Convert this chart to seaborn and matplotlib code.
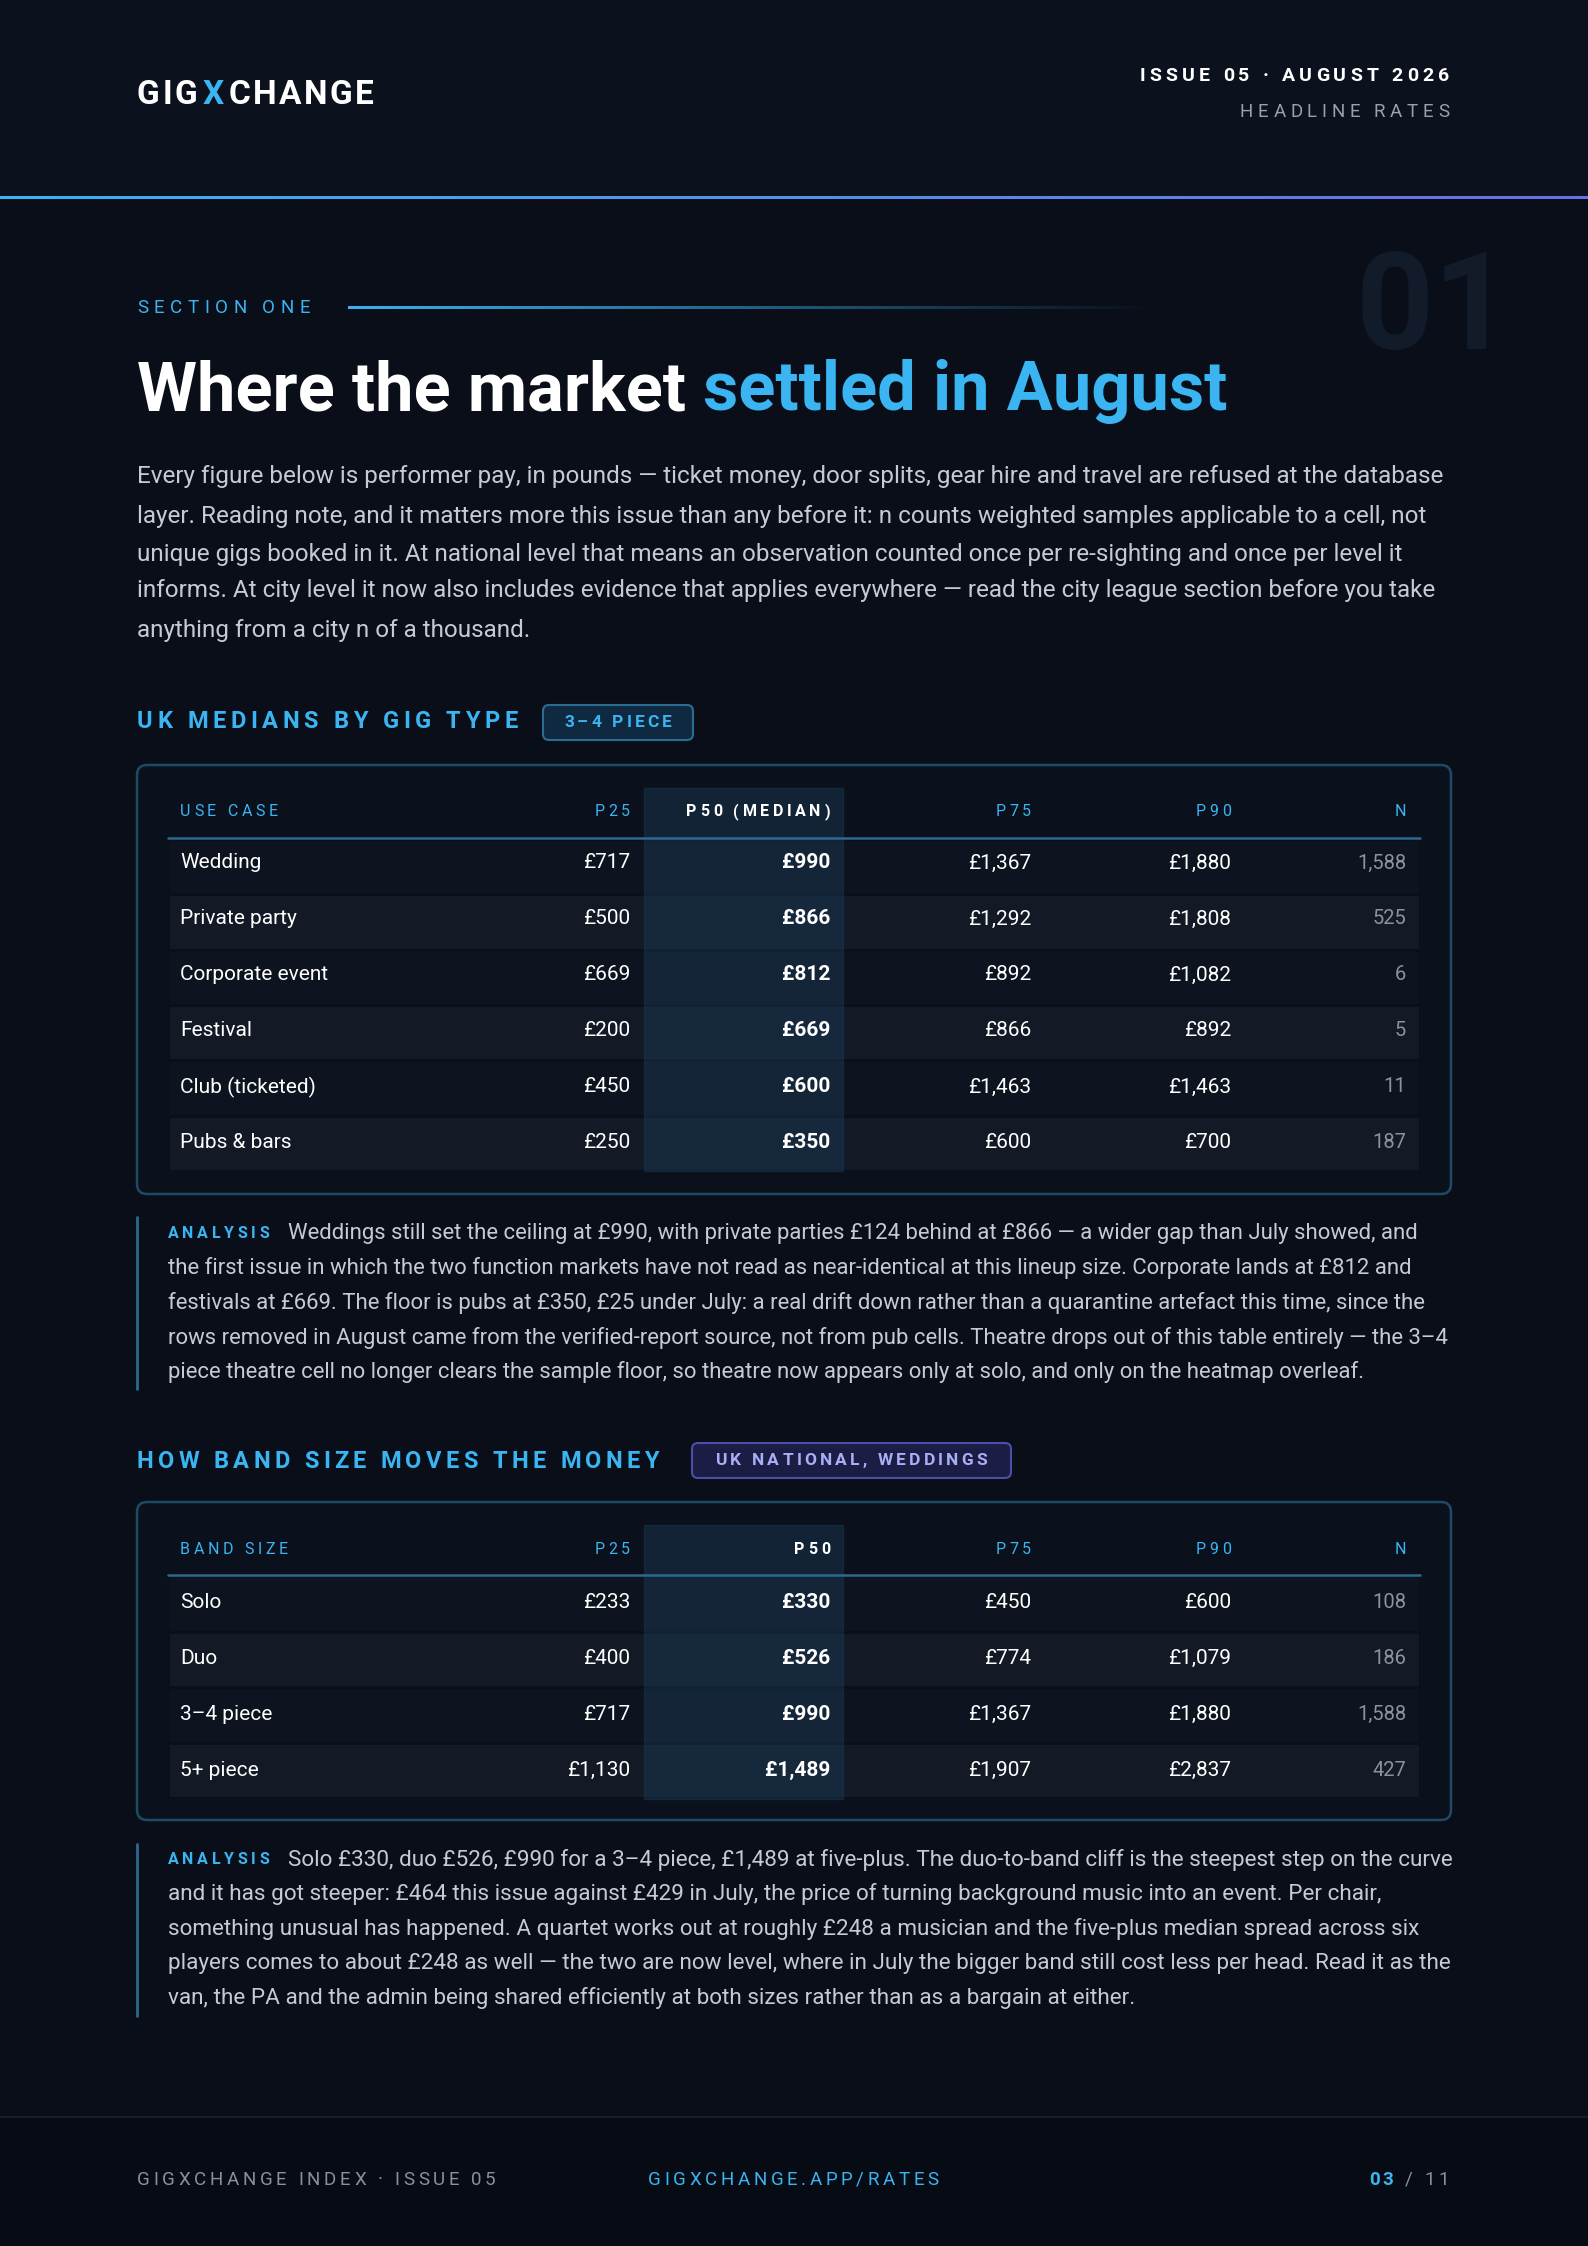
import matplotlib
matplotlib.use("Agg")
import matplotlib.pyplot as plt
import seaborn as sns
import numpy as np
from matplotlib.colors import ListedColormap, LinearSegmentedColormap
from matplotlib.font_manager import FontProperties
from matplotlib.textpath import text_to_path
from matplotlib.patches import FancyBboxPatch, Rectangle

# ---------------- data ----------------
gig_types = ["Wedding", "Private party", "Corporate event", "Festival", "Club (ticketed)", "Pubs & bars"]
gig_p25 = [717, 500, 669, 200, 450, 250]
gig_p50 = [990, 866, 812, 669, 600, 350]
gig_p75 = [1367, 1292, 892, 866, 1463, 600]
gig_p90 = [1880, 1808, 1082, 892, 1463, 700]
gig_n = [1588, 525, 6, 5, 11, 187]

band_sizes = ["Solo", "Duo", "3–4 piece", "5+ piece"]
band_p25 = [233, 400, 717, 1130]
band_p50 = [330, 526, 990, 1489]
band_p75 = [450, 774, 1367, 1907]
band_p90 = [600, 1079, 1880, 2837]
band_n = [108, 186, 1588, 427]

intro_lines = [
    "Every figure below is performer pay, in pounds — ticket money, door splits, gear hire and travel are refused at the database",
    "layer. Reading note, and it matters more this issue than any before it: n counts weighted samples applicable to a cell, not",
    "unique gigs booked in it. At national level that means an observation counted once per re-sighting and once per level it",
    "informs. At city level it now also includes evidence that applies everywhere — read the city league section before you take",
    "anything from a city n of a thousand.",
]
analysis1 = [
    "Weddings still set the ceiling at £990, with private parties £124 behind at £866 — a wider gap than July showed, and",
    "the first issue in which the two function markets have not read as near-identical at this lineup size. Corporate lands at £812 and",
    "festivals at £669. The floor is pubs at £350, £25 under July: a real drift down rather than a quarantine artefact this time, since the",
    "rows removed in August came from the verified-report source, not from pub cells. Theatre drops out of this table entirely — the 3–4",
    "piece theatre cell no longer clears the sample floor, so theatre now appears only at solo, and only on the heatmap overleaf.",
]
analysis2 = [
    "Solo £330, duo £526, £990 for a 3–4 piece, £1,489 at five-plus. The duo-to-band cliff is the steepest step on the curve",
    "and it has got steeper: £464 this issue against £429 in July, the price of turning background music into an event. Per chair,",
    "something unusual has happened. A quartet works out at roughly £248 a musician and the five-plus median spread across six",
    "players comes to about £248 as well — the two are now level, where in July the bigger band still cost less per head. Read it as the",
    "van, the PA and the admin being shared efficiently at both sizes rather than as a bargain at either.",
]

# ---------------- style ----------------
sns.set_theme(style="dark")
FAM = ["Roboto", "DejaVu Sans"]
plt.rcParams["font.family"] = FAM
BG = "#090e18"
BLUE = "#3bb4f2"
WHITE = "#ffffff"
GREY = "#c5cad3"
DIM = "#8c939e"

W, H = 1588, 2246
fig = plt.figure(figsize=(W / 100, H / 100), dpi=100)
fig.patch.set_facecolor(BG)


def fx(x):
    return x / W


def fy(y):
    return 1 - y / H


def tw(s, size, weight="normal"):
    prop = FontProperties(family=FAM, weight=weight, size=size)
    return text_to_path.get_text_width_height_descent(s, prop, ismath=False)[0] * 100 / 72


def fit(s, target, weight="normal"):
    return 10 * target / tw(s, 10, weight)


# background axes for table boxes + seaborn heatmap stripes (below main canvas)
bgax = fig.add_axes([0, 0, 1, 1])
bgax.set_xlim(0, W)
bgax.set_ylim(H, 0)
bgax.set_axis_off()
bgax.set_zorder(0)


def stripes(x0, x1, y0, y1, nrows):
    a = fig.add_axes([fx(x0), fy(y1), fx(x1 - x0), (y1 - y0) / H])
    a.set_zorder(1)
    data = np.array([[i % 2] for i in range(nrows)])
    sns.heatmap(data, ax=a, cmap=ListedColormap(["#0d1420", "#131a26"]), cbar=False,
                xticklabels=False, yticklabels=False, linewidths=1, linecolor="#0a0f19")
    a.set_axis_off()


# main canvas
ax = fig.add_axes([0, 0, 1, 1])
ax.set_xlim(0, W)
ax.set_ylim(H, 0)
ax.set_axis_off()
ax.patch.set_alpha(0)
ax.set_zorder(2)

# header band
bgax.add_patch(Rectangle((0, 0), W, 198, color="#0b121d", zorder=0))
grad = LinearSegmentedColormap.from_list("g", [BLUE, "#6a6ee8"])
ax.imshow(np.linspace(0, 1, 256)[None, :], cmap=grad, extent=(0, W, 199.5, 197), aspect="auto", zorder=2)
ax.set_xlim(0, W); ax.set_ylim(H, 0)

# footer
bgax.add_patch(Rectangle((0, 2117), W, H - 2117, color="#070b13", zorder=0))
ax.plot([0, W], [2117, 2117], color="#1a2230", lw=1.2, zorder=1)


def tracked(x, y, s, size, color, weight="normal", track=0.0, ha="left", va="center", z=5, alpha=1):
    widths = [tw(c, size, weight) for c in s]
    total = sum(widths) + track * (len(s) - 1)
    if ha == "right":
        x -= total
    elif ha == "center":
        x -= total / 2
    for c, w_ in zip(s, widths):
        ax.text(x, y, c, fontsize=size, color=color, weight=weight, ha="left", va=va, zorder=z, alpha=alpha)
        x += w_ + track
    return x


# logo
xx = tracked(137, 95, "GIG", 24, WHITE, "bold", 2.5)
xx = tracked(xx + 2.5, 95, "X", 24, BLUE, "bold", 2.5)
tracked(xx + 2.5, 95, "CHANGE", 24, WHITE, "bold", 2.5)
tracked(1449, 76, "ISSUE 05 · AUGUST 2026", 14, WHITE, "bold", 4.2, ha="right")
tracked(1449, 112, "HEADLINE RATES", 13.5, "#9aa1ac", "normal", 4.6, ha="right")

# big faint 01
ax.text(1512, 312, "01", fontsize=98, color="#111b2a", weight="bold", ha="right", va="center", zorder=1)

# section label
e = tracked(137, 308, "SECTION ONE", 13.5, BLUE, "normal", 5.5)
lg = LinearSegmentedColormap.from_list("l", [(0.23, 0.7, 0.95, 1), (0.23, 0.7, 0.95, 0.0)])
ax.imshow(np.linspace(0, 1, 256)[None, :], cmap=lg, extent=(348, 1160, 309.5, 307), aspect="auto", zorder=2)
ax.set_xlim(0, W); ax.set_ylim(H, 0)

# title
t1s, t2s = "Where the market ", "settled in August"
ts = fit(t1s + t2s, 1090, "bold")
ax.text(137, 392, t1s, fontsize=ts, color=WHITE, weight="bold", va="center", zorder=5)
ax.text(137 + tw(t1s, ts, "bold"), 392, t2s, fontsize=ts, color=BLUE, weight="bold", va="center", zorder=5)

# intro
ps = fit(intro_lines[0], 1312)
for i, (ln, y) in enumerate(zip(intro_lines, [477, 516, 554, 591, 630])):
    ax.text(137, y, ln, fontsize=ps, color=GREY, va="center", zorder=5)


def badge(x0, x1, y0, y1, label, fc, ec, tc):
    ax.add_patch(FancyBboxPatch((x0, y0), x1 - x0, y1 - y0, boxstyle="round,pad=0,rounding_size=6",
                                fc=fc, ec=ec, lw=1.5, zorder=3))
    tracked((x0 + x1) / 2, (y0 + y1) / 2, label, 12.5, tc, "bold", 3.2, ha="center")


def table(y_box0, y_box1, y_head, y_line, row_ys, hl0, hl1, headers, labels, cols, n):
    bgax.add_patch(FancyBboxPatch((137, y_box0), 1451 - 137, y_box1 - y_box0,
                                  boxstyle="round,pad=0,rounding_size=10", fc="#0b111c", ec="#1e4a66",
                                  lw=1.8, zorder=1))
    rh = row_ys[1] - row_ys[0]
    stripes(168, 1420, y_line + 1, row_ys[-1] + rh / 2, len(row_ys))
    ax.add_patch(Rectangle((644, hl0), 843 - 644, hl1 - hl0, color="#1b3a55", alpha=0.45, zorder=3))
    ax.plot([168, 1420], [y_line, y_line], color="#2a6a90", lw=1.8, zorder=4)
    rights = [630, 830, 1031, 1231, 1406]
    tracked(180, y_head, headers[0], 11.5, BLUE, "normal", 3.6)
    for j, hdr in enumerate(headers[1:]):
        tracked(rights[j], y_head, hdr, 11.5, WHITE if j == 1 else BLUE,
                "bold" if j == 1 else "normal", 3.6, ha="right")
    for i, y in enumerate(row_ys):
        ax.text(180, y, labels[i], fontsize=15, color=WHITE, va="center", zorder=5)
        for j, col in enumerate(cols):
            ax.text(rights[j], y, f"£{col[i]:,}", fontsize=15, color=WHITE,
                    weight="bold" if j == 1 else "normal", ha="right", va="center", zorder=5)
        ax.text(rights[4], y, f"{n[i]:,}", fontsize=14.5, color=DIM, ha="right", va="center", zorder=5)


def analysis(y0, y1, lines, ys):
    ax.plot([137, 137], [y0, y1], color="#2a6a90", lw=2, zorder=4)
    tracked(168, ys[0], "ANALYSIS", 11.5, BLUE, "bold", 3.6)
    sz = min([fit(lines[0], 1451 - 288)] + [fit(l, 1451 - 168) for l in lines[1:]])
    for i, (ln, y) in enumerate(zip(lines, ys)):
        ax.text(288 if i == 0 else 168, y, ln, fontsize=sz, color=GREY, va="center", zorder=5)


# section 1
tracked(137, 722, "UK MEDIANS BY GIG TYPE", 17, BLUE, "bold", 4.6)
badge(543, 693, 705, 740, "3–4 PIECE", "#0f2a40", "#2b6d92", BLUE)
table(765, 1194, 812, 838, [863, 919, 975, 1031, 1087, 1143], 788, 1171,
      ["USE CASE", "P25", "P50 (MEDIAN)", "P75", "P90", "N"], gig_types,
      [gig_p25, gig_p50, gig_p75, gig_p90], gig_n)
analysis(1217, 1389, analysis1, [1233, 1268, 1303, 1338, 1372])

# section 2
tracked(137, 1461, "HOW BAND SIZE MOVES THE MONEY", 17, BLUE, "bold", 4.3)
badge(692, 1011, 1443, 1478, "UK NATIONAL, WEDDINGS", "#1c1d45", "#4b4fa8", "#a9aef5")
table(1502, 1820, 1549, 1575, [1602, 1658, 1714, 1770], 1525, 1799,
      ["BAND SIZE", "P25", "P50", "P75", "P90", "N"], band_sizes,
      [band_p25, band_p50, band_p75, band_p90], band_n)
analysis(1844, 2016, analysis2, [1860, 1894, 1929, 1963, 1998])

# footer text
tracked(137, 2180, "GIGXCHANGE INDEX · ISSUE 05", 13.5, "#8a919c", "normal", 3.6)
tracked(648, 2180, "GIGXCHANGE.APP/RATES", 13.5, BLUE, "normal", 3.6)
xx = tracked(1449, 2180, "11", 13.5, "#8a919c", "normal", 3.0, ha="right")
x2 = 1449 - tw("11", 13.5) - 3 - 12
tracked(x2, 2180, "/", 13.5, "#8a919c", "normal", 0, ha="right")
tracked(x2 - tw("/", 13.5) - 12, 2180, "03", 13.5, BLUE, "bold", 3.0, ha="right")

fig.savefig("out.png", dpi=100, facecolor=BG)
